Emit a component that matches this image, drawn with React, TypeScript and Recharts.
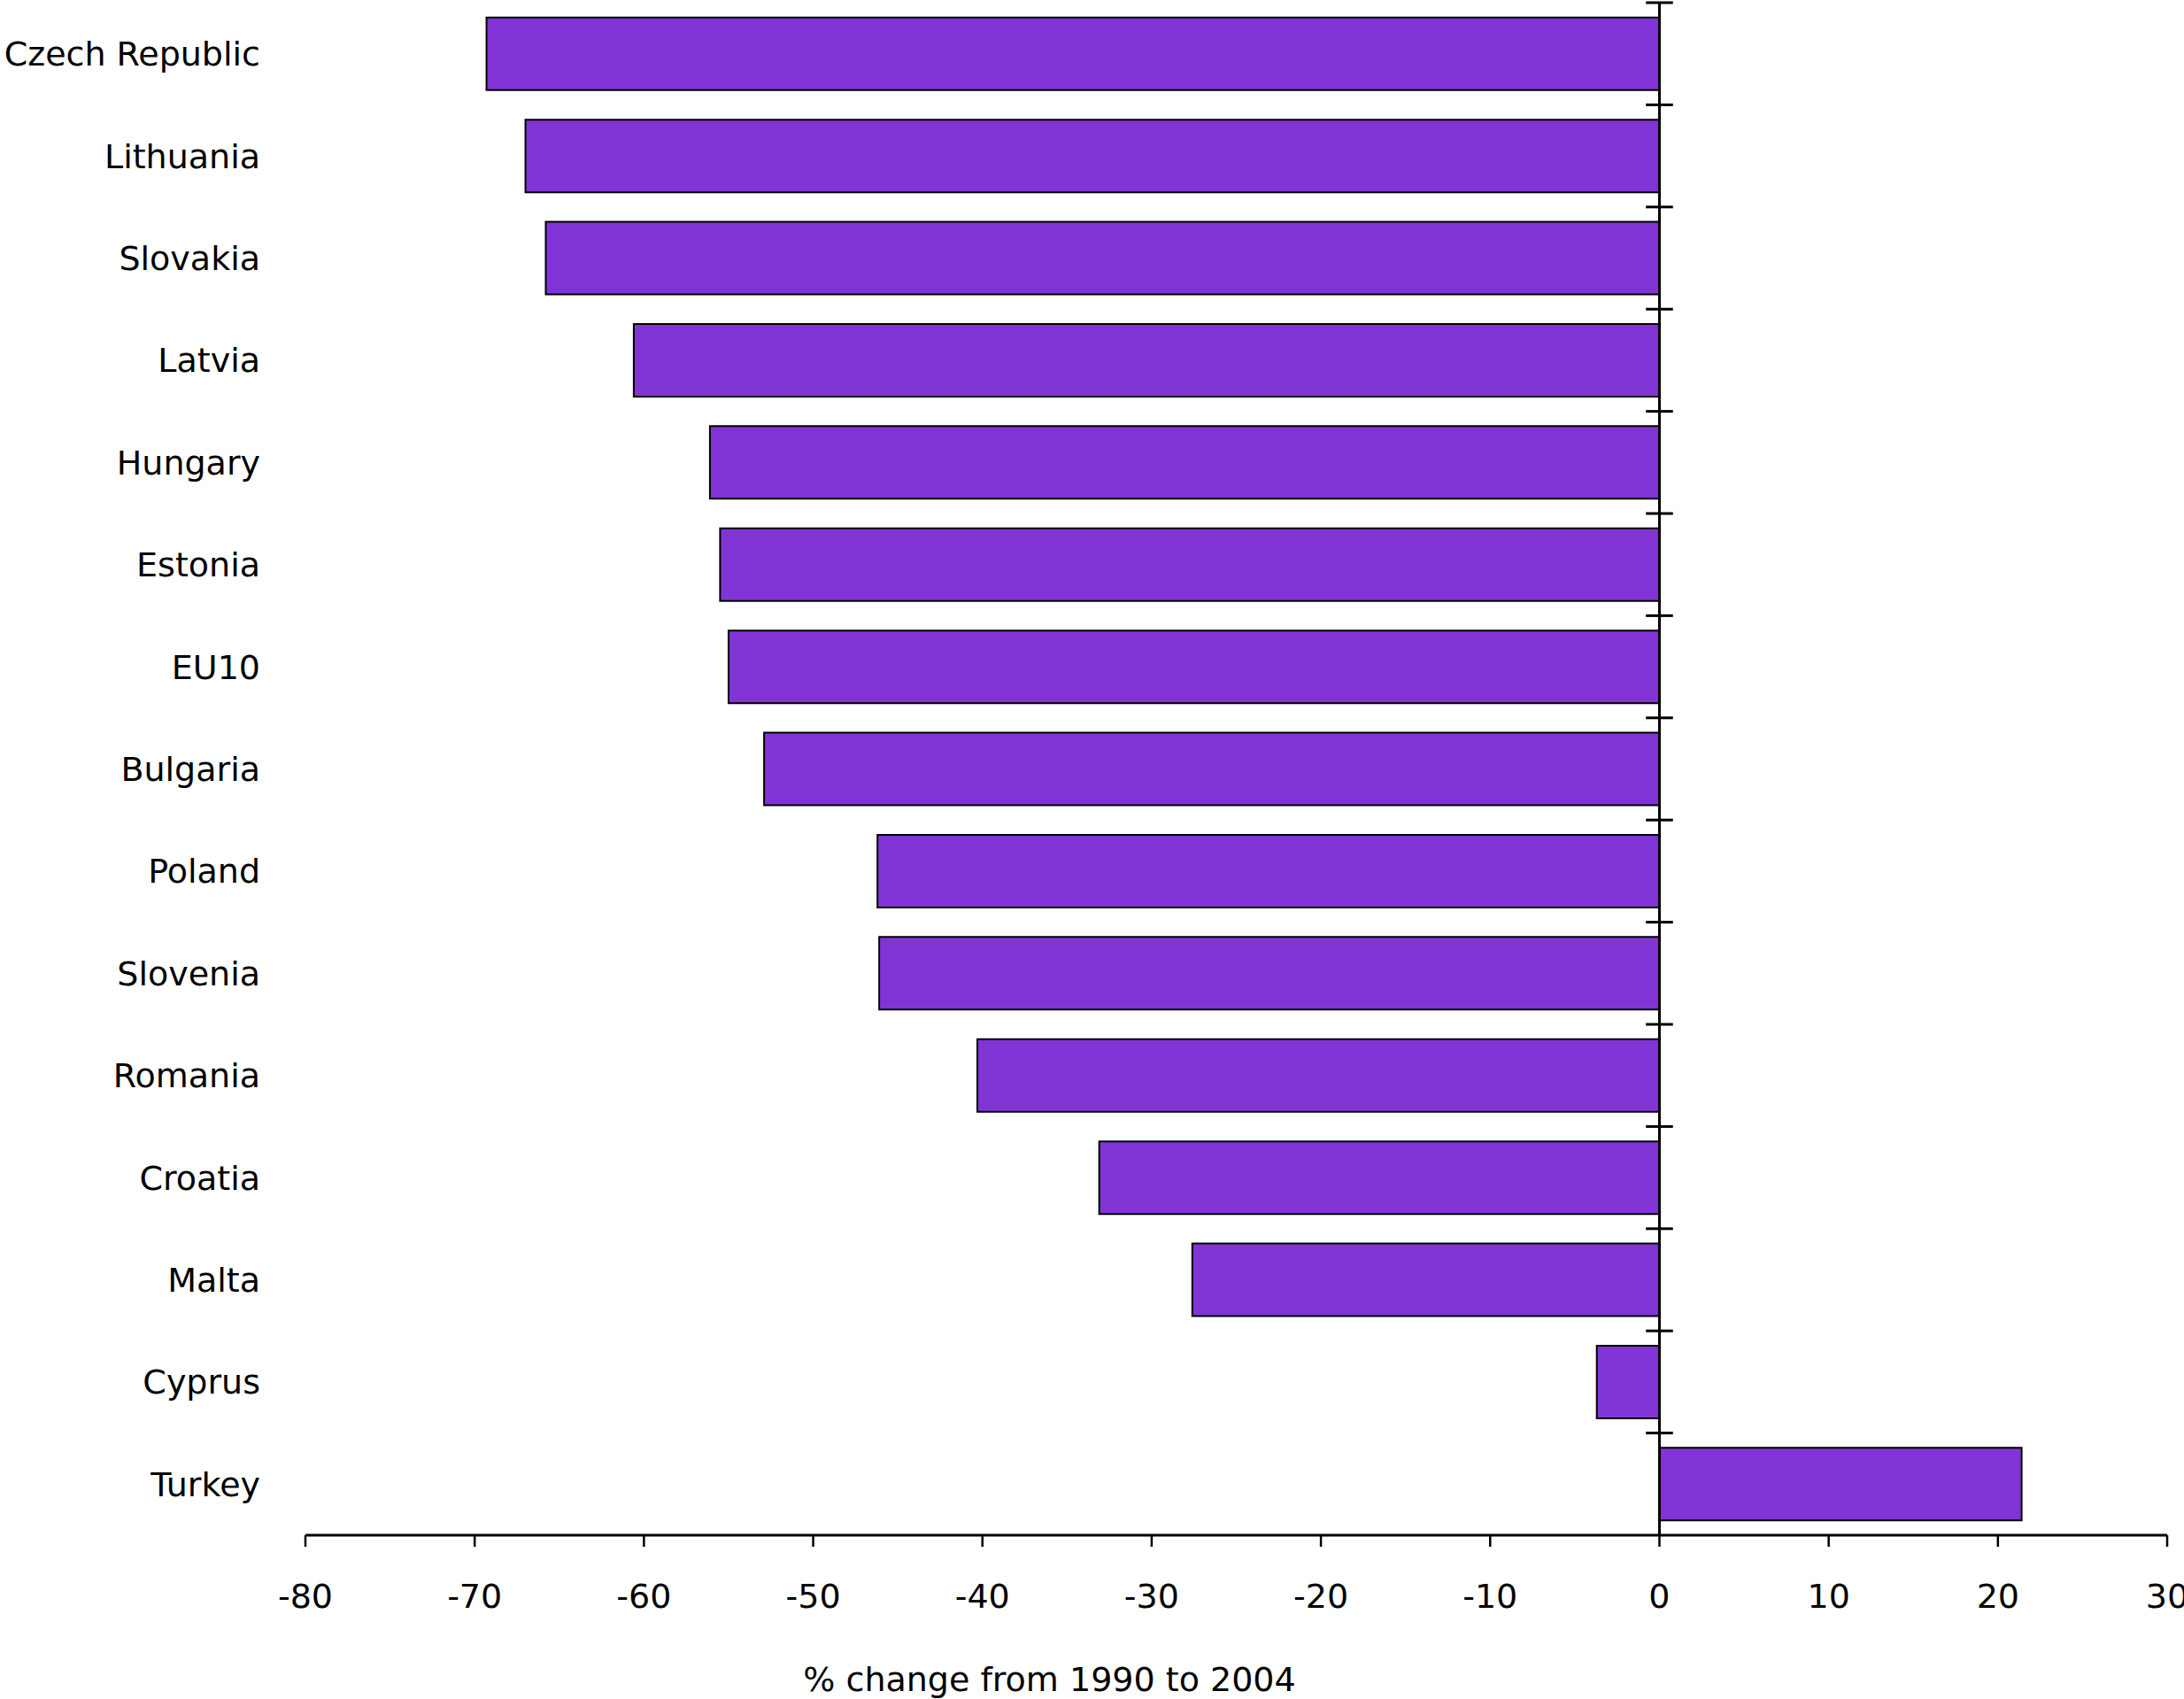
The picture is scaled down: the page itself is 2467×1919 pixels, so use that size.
import {
  BarChart,
  Bar,
  XAxis,
  YAxis,
  ReferenceLine,
  Label,
} from "recharts";

const countries = [
  "Czech Republic",
  "Lithuania",
  "Slovakia",
  "Latvia",
  "Hungary",
  "Estonia",
  "EU10",
  "Bulgaria",
  "Poland",
  "Slovenia",
  "Romania",
  "Croatia",
  "Malta",
  "Cyprus",
  "Turkey",
];

const changes = [
  -69.3, -67.0, -65.8, -60.6, -56.1, -55.5, -55.0, -52.9, -46.2, -46.1, -40.3,
  -33.1, -27.6, -3.7, 21.4,
];

const xTicks = [-80, -70, -60, -50, -40, -30, -20, -10, 0, 10, 20, 30];

const data = countries.map((name, i) => ({ name, value: changes[i] }));

const font = "'DejaVu Sans', Verdana, sans-serif";

export default function App() {
  return (
    <div style={{ position: "absolute", left: 0, top: 0, width: 2467, height: 1919, background: "#fff" }}>
      <BarChart
        width={2467}
        height={1919}
        data={data}
        layout="vertical"
        barCategoryGap="14.5%"
        margin={{ top: 3, right: 19, left: 0, bottom: 85 }}
      >
        <XAxis
          type="number"
          domain={[-80, 30]}
          ticks={xTicks}
          allowDataOverflow
          height={100}
          axisLine={{ stroke: "#000", strokeWidth: 3 }}
          tickLine={{ stroke: "#000", strokeWidth: 2.5 }}
          tickSize={13}
          tickMargin={42}
          tick={{ fill: "#000", fontSize: 38, fontFamily: font }}
        >
          <Label
            value="% change from 1990 to 2004"
            position="bottom"
            offset={49}
            dx={-211}
            fill="#000"
            fontSize={38}
            fontFamily={font}
          />
        </XAxis>
        <YAxis
          type="category"
          dataKey="name"
          width={345}
          axisLine={false}
          tickLine={false}
          tickSize={6}
          tickMargin={45}
          interval={0}
          tick={{ fill: "#000", fontSize: 38, fontFamily: font }}
        />
        <Bar
          dataKey="value"
          fill="#8134d6"
          stroke="#000"
          strokeWidth={2}
          isAnimationActive={false}
        />
        <ReferenceLine x={0} stroke="#000" strokeWidth={3} />
        {/* small ticks across the zero line at the top of each category band */}
        {countries.map((c) => (
          <ReferenceLine
            key={c}
            position="start"
            segment={[
              { x: -0.8, y: c },
              { x: 0.8, y: c },
            ]}
            stroke="#000"
            strokeWidth={3}
            ifOverflow="visible"
          />
        ))}
      </BarChart>
    </div>
  );
}
